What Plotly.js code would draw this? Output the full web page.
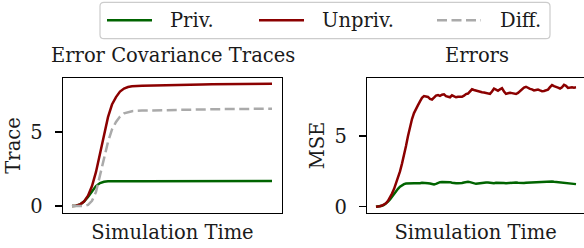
<!DOCTYPE html>
<html><head><meta charset="utf-8">
<script src="https://cdn.plot.ly/plotly-3.0.1.min.js"></script>
<style>html,body{margin:0;padding:0;background:#fff}</style>
</head><body><div id="chart" style="width:584px;height:248px"></div>
<script>
// ---- data ----
const timeCov = [0,2,4,6,8,10,12,14,16,18,20,22,24,26,28,30,35,40,45,50,55,60,65,70,75,80,85,90,95,100];
const covPriv = [0,0.02,0.1,0.3,0.62,1.0,1.35,1.55,1.64,1.67,1.68,1.68,1.68,1.68,1.68,1.68,1.68,1.68,1.68,1.68,1.68,1.68,1.68,1.68,1.68,1.68,1.68,1.68,1.68,1.69];
const covUnpriv = [0,0.02,0.1,0.3,0.7,1.35,2.3,3.55,4.85,6.0,6.85,7.35,7.72,7.93,8.03,8.08,8.12,8.14,8.15,8.16,8.18,8.19,8.2,8.21,8.22,8.23,8.24,8.24,8.25,8.25];
const covDiff = [0,0,0,0,0.08,0.35,0.95,2.0,3.2,4.33,5.17,5.67,6.04,6.25,6.35,6.4,6.44,6.46,6.47,6.48,6.5,6.51,6.52,6.53,6.54,6.55,6.56,6.56,6.57,6.57];

const timeErr = [0,1,2,3,4,5,6,7,8,9,10,11,12,13,14,15,16,17,18,19,20,21,22,23,24,25,26,27,28,29,30,31,32,33,34,35,36,37,38,39,40,41,42,43,44,45,46,47,48,49,50,51,52,53,54,55,56,57,58,59,60,61,62,63,64,65,66,67,68,69,70,71,72,73,74,75,76,77,78,79,80,81,82,83,84,85,86,87,88,89,90,91,92,93,94,95,96,97,98,99,100];
const errPriv = [0,0.01,0.03,0.07,0.13,0.22,0.36,0.52,0.72,0.92,1.10,1.27,1.42,1.53,1.60,1.64,1.66,1.66,1.65,1.67,1.66,1.64,1.66,1.69,1.70,1.68,1.67,1.65,1.60,1.58,1.62,1.70,1.74,1.75,1.76,1.77,1.76,1.74,1.70,1.67,1.66,1.67,1.66,1.68,1.72,1.76,1.77,1.74,1.69,1.64,1.62,1.64,1.67,1.69,1.70,1.72,1.71,1.68,1.66,1.67,1.69,1.70,1.71,1.70,1.68,1.67,1.68,1.70,1.72,1.73,1.71,1.69,1.67,1.66,1.68,1.70,1.71,1.70,1.69,1.70,1.72,1.74,1.76,1.78,1.77,1.75,1.76,1.78,1.79,1.77,1.75,1.73,1.71,1.69,1.68,1.67,1.66,1.64,1.62,1.61,1.60];
const errUnpriv = [0,0.01,0.04,0.09,0.15,0.25,0.42,0.65,0.93,1.25,1.62,2.02,2.50,3.05,3.62,4.30,5.00,5.68,6.20,6.62,6.95,7.18,7.45,7.70,7.82,7.80,7.76,7.62,7.58,7.72,7.86,7.90,7.84,7.92,7.95,7.82,7.76,7.74,7.88,7.82,7.74,7.78,7.80,7.77,7.85,7.96,8.00,8.15,8.30,8.25,8.20,8.16,8.12,8.10,8.08,8.04,8.00,7.98,8.15,8.35,8.28,8.20,8.30,8.38,8.15,7.98,8.02,8.06,8.03,7.98,7.97,8.05,8.18,8.30,8.42,8.48,8.40,8.33,8.30,8.22,8.25,8.28,8.22,8.17,8.18,8.24,8.28,8.45,8.60,8.52,8.44,8.42,8.36,8.45,8.62,8.55,8.40,8.43,8.45,8.42,8.44];

const seriesNames = ['Priv.', 'Unpriv.', 'Diff.'];
const panelTitles = ['Error Covariance Traces', 'Errors'];
const yTitles = ['Trace', 'MSE'];
const xTitle = 'Simulation Time';
const yTicks = [0, 5];
const yTickText = ['0', '5'];

// ---- styling ----
const FONT = 'DejaVu Serif';
const FS = 19.5;
const TXT = '#1a1a1a';
const cPriv = '#006400', cUnpriv = '#8b0000', cDiff = '#aaaaaa';
const LW = 2.5;
const DASH = '10px,4.5px';
const colors = [cPriv, cUnpriv, cDiff];
const dashes = ['solid', 'solid', DASH];

const W = 584, H = 248;
const M = {l: 63, r: 0, t: 77.5, b: 35};
const PW = W - M.l - M.r, PH = H - M.t - M.b;
const X = px => (px - M.l) / PW;
const Y = py => (H - M.b - py) / PH;
const fnt = () => ({family: FONT, size: FS, color: TXT});

const traces = [
  {x: timeCov, y: covPriv, name: seriesNames[0], mode: 'lines', line: {color: cPriv, width: LW}, xaxis: 'x', yaxis: 'y'},
  {x: timeCov, y: covUnpriv, name: seriesNames[1], mode: 'lines', line: {color: cUnpriv, width: LW}, xaxis: 'x', yaxis: 'y'},
  {x: timeCov, y: covDiff, name: seriesNames[2], mode: 'lines', line: {color: cDiff, width: LW, dash: DASH}, xaxis: 'x', yaxis: 'y'},
  {x: timeErr, y: errPriv, name: seriesNames[0], mode: 'lines', line: {color: cPriv, width: LW}, xaxis: 'x2', yaxis: 'y2'},
  {x: timeErr, y: errUnpriv, name: seriesNames[1], mode: 'lines', line: {color: cUnpriv, width: LW}, xaxis: 'x2', yaxis: 'y2'}
];

const axBase = {
  showgrid: false, zeroline: false, showline: true, linecolor: '#000', linewidth: 1.4,
  automargin: false, tickfont: fnt()
};
const r = 4;
function rrect(x0, y0, x1, y1) {
  return `M${X(x0 + r)},${Y(y0)} L${X(x1 - r)},${Y(y0)} Q${X(x1)},${Y(y0)} ${X(x1)},${Y(y0 + r)} ` +
         `L${X(x1)},${Y(y1 - r)} Q${X(x1)},${Y(y1)} ${X(x1 - r)},${Y(y1)} ` +
         `L${X(x0 + r)},${Y(y1)} Q${X(x0)},${Y(y1)} ${X(x0)},${Y(y1 - r)} ` +
         `L${X(x0)},${Y(y0 + r)} Q${X(x0)},${Y(y0)} ${X(x0 + r)},${Y(y0)} Z`;
}

// legend (drawn as layout shapes + annotations, positioned in pixels)
const legLineX = [[107, 152], [259, 304], [437, 481]];
const legTextX = [168, 320, 498];
const legY = 19.5;
const legendShapes = legLineX.map((p, i) => ({type: 'line', xref: 'paper', yref: 'paper',
  x0: X(p[0]), x1: X(p[1]), y0: Y(legY), y1: Y(legY), line: {color: colors[i], width: LW, dash: dashes[i]}}));
const legendTexts = seriesNames.map((s, i) => ({text: s, xref: 'paper', yref: 'paper', x: X(legTextX[i]), y: Y(legY + 0.5),
  xanchor: 'left', yanchor: 'middle', showarrow: false, font: fnt()}));

const layout = {
  width: W, height: H, margin: M,
  paper_bgcolor: '#fff', plot_bgcolor: '#fff',
  font: fnt(),
  showlegend: false,
  xaxis: Object.assign({}, axBase, {domain: [0, X(282)], range: [-4.5, 105], showticklabels: false, ticks: '',
    mirror: true, title: {text: xTitle, font: fnt(), standoff: 12}}),
  yaxis: Object.assign({}, axBase, {domain: [0, 1], range: [-0.47, 8.64], tickvals: yTicks, ticktext: yTickText,
    ticks: 'outside', ticklen: 7, tickwidth: 1.4, tickcolor: '#000', ticklabelstandoff: 8, mirror: true,
    title: {text: yTitles[0], font: fnt(), standoff: 4}}),
  xaxis2: Object.assign({}, axBase, {domain: [X(367.3), 1], range: [-4.35, 104], showticklabels: false, ticks: '',
    mirror: true, anchor: 'y2', title: {text: xTitle, font: fnt(), standoff: 12}}),
  yaxis2: Object.assign({}, axBase, {domain: [0, 1], range: [-0.44, 9.1], tickvals: yTicks, ticktext: yTickText,
    ticks: 'outside', ticklen: 7, tickwidth: 1.4, tickcolor: '#000', ticklabelstandoff: 8, anchor: 'x2', mirror: false,
    title: {text: yTitles[1], font: fnt(), standoff: 4}}),
  annotations: [
    {text: panelTitles[0], xref: 'paper', yref: 'paper', x: X(172.5), y: Y(55), xanchor: 'center', yanchor: 'middle', showarrow: false, font: fnt()},
    {text: panelTitles[1], xref: 'paper', yref: 'paper', x: X(477), y: Y(55), xanchor: 'center', yanchor: 'middle', showarrow: false, font: fnt()}
  ].concat(legendTexts),
  shapes: [
    {type: 'path', xref: 'paper', yref: 'paper', path: rrect(100, 1.5, 550, 38), line: {color: '#cccccc', width: 1.2}, fillcolor: 'rgba(255,255,255,0.8)', layer: 'below'}
  ].concat(legendShapes)
};

Plotly.newPlot('chart', traces, layout, {staticPlot: true, displayModeBar: false});
</script>
</body></html>
